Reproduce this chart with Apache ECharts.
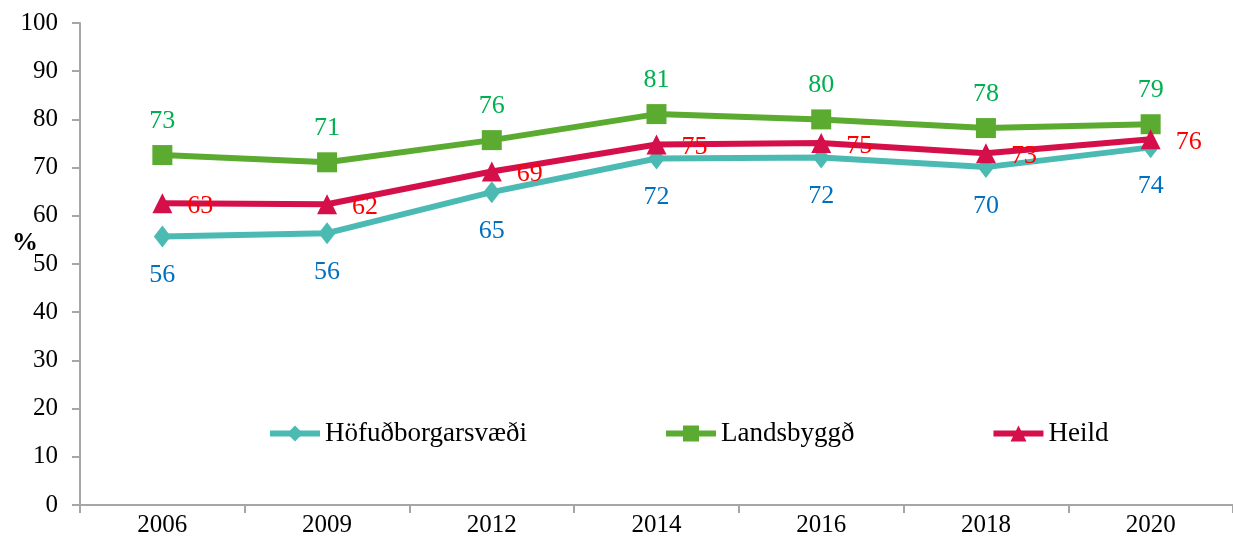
<!DOCTYPE html>
<html lang="is">
<head>
    <meta charset="UTF-8">
    <title>Höfuðborgarsvæði / Landsbyggð / Heild</title>
    <script src="https://cdn.jsdelivr.net/npm/echarts@6/dist/echarts.min.js"></script>
    <style>
        html, body { margin: 0; padding: 0; background: #fff; }
    </style>
</head>
<body>
<div id="main" style="width: 1233px;height: 548px;"></div>
<script>
    // ár
    var years = ['2006', '2009', '2012', '2014', '2016', '2018', '2020']
    // gildi í %
    var hofudborg = [55.7, 56.4, 64.9, 71.9, 72.1, 70.1, 74.2]
    var landsbyggd = [72.6, 71.1, 75.7, 81.1, 80.0, 78.2, 79.0]
    var heild = [62.6, 62.4, 69.2, 74.8, 75.1, 73.0, 75.9]
    var yTicks = [0, 10, 20, 30, 40, 50, 60, 70, 80, 90, 100]

    var font = '"Liberation Serif", "Times New Roman", serif'
    var axisGray = '#A6A6A6'

    var mCharts = echarts.init(document.getElementById('main'))
    var option = {
        animation: false,
        textStyle: { fontFamily: font },
        grid: { left: 80, right: 0, top: 23, bottom: 43 },
        graphic: [{
            type: 'text',
            left: 12,
            top: 230,
            style: { text: '%', fontSize: 26, fontWeight: 'bold', fontFamily: font, fill: '#000' }
        }],
        legend: {
            left: 262,
            top: 415,
            itemWidth: 50,
            itemHeight: 20,
            itemGap: 136,
            lineStyle: { width: 6 },
            textStyle: { fontSize: 27, color: '#000', fontFamily: font },
            data: ['Höfuðborgarsvæði', 'Landsbyggð', 'Heild']
        },
        xAxis: {
            type: 'category',
            data: years,
            boundaryGap: true,
            axisLine: { lineStyle: { color: axisGray, width: 2 } },
            axisTick: { show: true, length: 8, lineStyle: { color: axisGray, width: 2 } },
            axisLabel: { fontSize: 25, color: '#000', margin: 8, fontFamily: font }
        },
        yAxis: {
            type: 'value',
            min: yTicks[0],
            max: yTicks[yTicks.length - 1],
            interval: 10,
            axisLine: { show: true, lineStyle: { color: axisGray, width: 2 } },
            axisTick: { show: true, length: 8, lineStyle: { color: axisGray, width: 2 } },
            splitLine: { show: false },
            axisLabel: { fontSize: 25, color: '#000', margin: 22, fontFamily: font }
        },
        series: [
            {
                name: 'Höfuðborgarsvæði',
                type: 'line',
                data: hofudborg,
                symbol: 'diamond',
                symbolSize: [17, 22],
                lineStyle: { width: 6, color: '#4BBAB3' },
                itemStyle: { color: '#4BBAB3' },
                label: {
                    show: true, position: 'bottom', distance: 15,
                    fontSize: 26, color: '#0070C0', fontFamily: font,
                    formatter: function (p) { return Math.round(p.value) }
                },
                z: 2
            },
            {
                name: 'Landsbyggð',
                type: 'line',
                data: landsbyggd,
                symbol: 'rect',
                symbolSize: 20,
                lineStyle: { width: 6, color: '#5AAB30' },
                itemStyle: { color: '#5AAB30' },
                label: {
                    show: true, position: 'top', distance: 11,
                    fontSize: 26, color: '#00B050', fontFamily: font,
                    formatter: function (p) { return Math.round(p.value) }
                },
                z: 3
            },
            {
                name: 'Heild',
                type: 'line',
                data: heild,
                symbol: 'triangle',
                symbolSize: 20,
                lineStyle: { width: 6, color: '#D40F4A' },
                itemStyle: { color: '#D40F4A' },
                label: {
                    show: true, position: 'right', distance: 15, offset: [0, 3],
                    fontSize: 26, color: '#FF0000', fontFamily: font,
                    formatter: function (p) { return Math.round(p.value) }
                },
                z: 4
            }
        ]
    }
    mCharts.setOption(option)
</script>
</body>
</html>
